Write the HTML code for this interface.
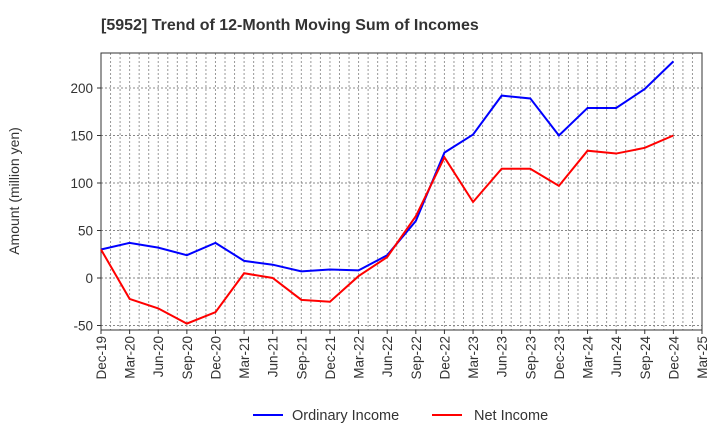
<!DOCTYPE html>
<html><head><meta charset="utf-8"><style>
body{margin:0;background:#fff;font-family:"Liberation Sans",sans-serif}
</style></head><body>
<svg id="c" width="720" height="440" xmlns="http://www.w3.org/2000/svg" font-family="Liberation Sans, sans-serif">
<text x="101" y="30" font-size="16" font-weight="bold" fill="#333">[5952]  Trend of 12-Month Moving Sum of Incomes</text>
<text transform="translate(19,191) rotate(-90)" text-anchor="middle" font-size="14" fill="#333">Amount (million yen)</text>
<g id="grid"></g><g id="axes"></g><g id="series"></g>
<g>
<line x1="253" y1="415" x2="283" y2="415" stroke="#0000ff" stroke-width="2"/>
<text x="292" y="420" font-size="14.5" fill="#333">Ordinary Income</text>
<line x1="432" y1="415" x2="462" y2="415" stroke="#ff0000" stroke-width="2"/>
<text x="474" y="420" font-size="14.5" fill="#333">Net Income</text>
</g>
</svg>
<script>
const categories=["Dec-19","Mar-20","Jun-20","Sep-20","Dec-20","Mar-21","Jun-21","Sep-21","Dec-21","Mar-22","Jun-22","Sep-22","Dec-22","Mar-23","Jun-23","Sep-23","Dec-23","Mar-24","Jun-24","Sep-24","Dec-24","Mar-25"];
const ordinaryIncome=[30,37,32,24,37,18,14,7,9,8,24,60,132,151,192,189,150,179,179,199,228];
const netIncome=[30,-22,-32,-48,-36,5,0,-23,-25,2,22,65,127,80,115,115,97,134,131,137,150];
const yTicks=[-50,0,50,100,150,200];
const L=101,R=702,T=53,B=330;
const ns="http://www.w3.org/2000/svg";
function X(i){return L+(R-L)*i/(categories.length-1);}
function Y(v){return 278-v*0.95;}
function mk(tag,at,parent){const e=document.createElementNS(ns,tag);for(const k in at)e.setAttribute(k,at[k]);document.getElementById(parent).appendChild(e);return e;}
for(let m=1;m<(categories.length-1)*3;m++){const x=L+(R-L)*m/((categories.length-1)*3);
const g=mk("line",{x1:x,x2:x,y1:T,y2:B,stroke:"#999","stroke-dasharray":"2,2","stroke-width":1},"grid");

}
yTicks.forEach(v=>{const y=Y(v);
const g=mk("line",{x1:L,x2:R,y1:y,y2:y,stroke:"#888","stroke-dasharray":"2,2","stroke-width":1},"grid");


mk("line",{x1:L-4,x2:L,y1:y,y2:y,stroke:"#333"},"axes");
const t=mk("text",{x:L-8,y:y+5,"text-anchor":"end","font-size":13.5,fill:"#333"},"axes");t.textContent=v;

});
const fr=mk("rect",{x:L,y:T,width:R-L,height:B-T,fill:"none",stroke:"#333","stroke-width":1},"axes");


categories.forEach((c,i)=>{const x=X(i);
mk("line",{x1:x,x2:x,y1:B,y2:B+4,stroke:"#333"},"axes");
const t=mk("text",{transform:`translate(${x+5},${B+6}) rotate(-90)`,"text-anchor":"end","font-size":13.5,fill:"#333"},"axes");t.textContent=c;

});
function line(d,col,name){const p=mk("polyline",{points:d.map((v,i)=>X(i)+","+Y(v)).join(" "),fill:"none",stroke:col,"stroke-width":2},"series");

}
line(ordinaryIncome,"#0000ff","ordinary-income-line");
line(netIncome,"#ff0000","net-income-line");
</script>
</body></html>
